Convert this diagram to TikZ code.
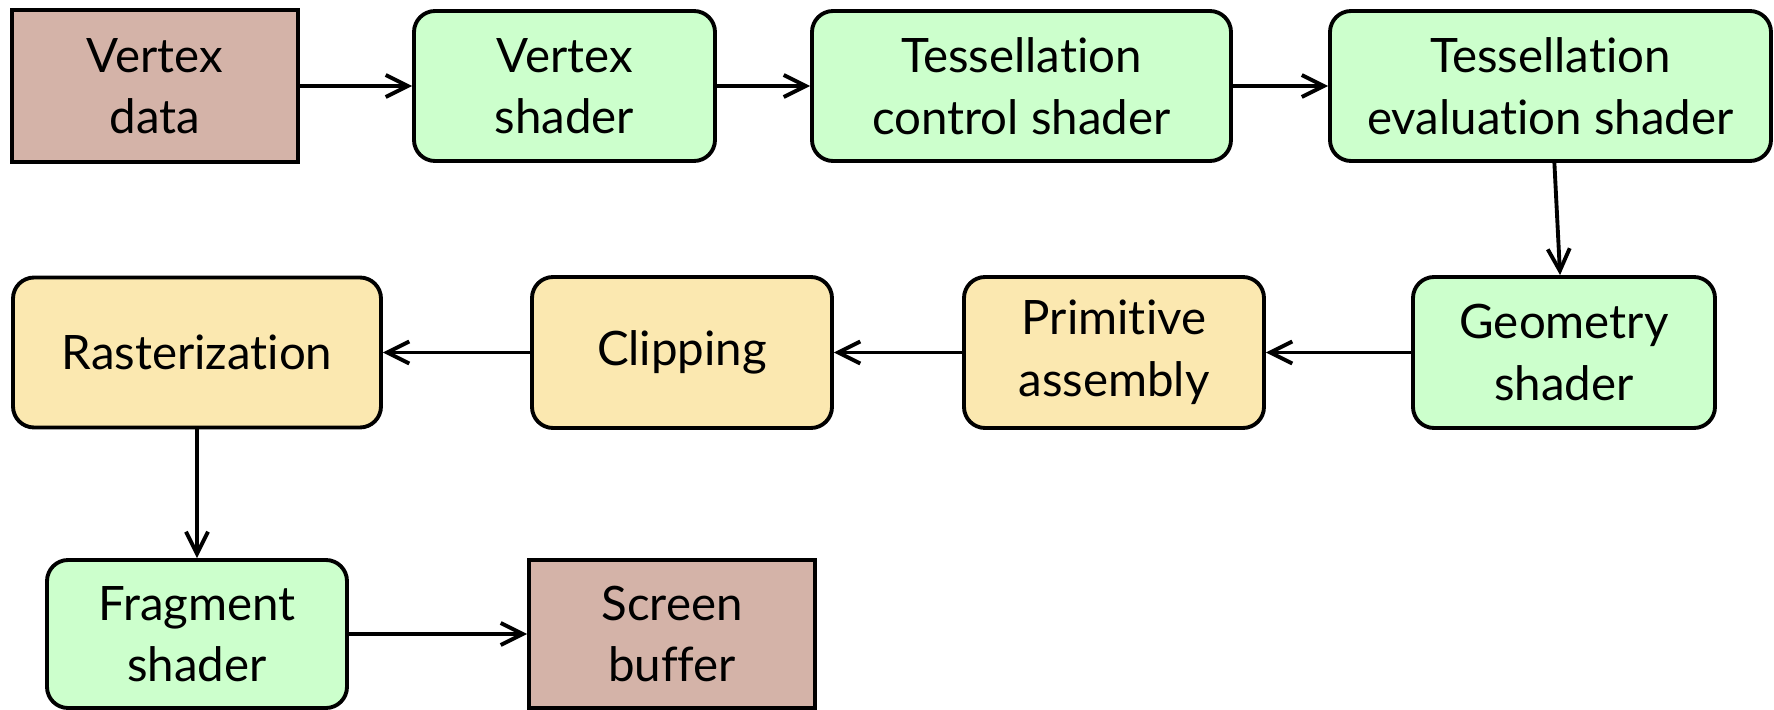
\documentclass[tikz,border=0pt]{standalone}
\usepackage{fontspec}
\setmainfont{Lato}[Ligatures=NoCommon]
\usetikzlibrary{arrows.meta}
\definecolor{cdata}{HTML}{D4B3A8}
\definecolor{cshader}{HTML}{CCFFCC}
\definecolor{cfixed}{HTML}{FBE8B0}
\tikzset{
  every picture/.style={line width=1.1pt},
  box/.style={draw=black, fill=#1, align=center, inner sep=2pt, minimum height=1.5cm, font=\fontsize{13.5}{17.5}\selectfont},
  box/.default=cdata,
  stage/.style={box=#1, rounded corners=6pt},
  stage/.default=cshader,
  arrow/.style={-{Straight Barb[length=2.2mm, width=2.2mm]}, draw=black, line width=1.1pt},
}

\begin{document}
\begin{tikzpicture}
  \useasboundingbox (0,0) rectangle (17.74,-7.10);
  % programmable stages in green, fixed ones in yellow
  \node[box, minimum width=2.86cm, minimum height=1.52cm] (vdata) at (1.55,-0.86) {Vertex\\data};
  \node[stage, minimum width=3.01cm] (vsh) at (5.645,-0.86) {Vertex\\shader};
  \node[stage, minimum width=4.19cm] (tcs) at (10.215,-0.86) {Tessellation\\control shader};
  \node[stage, minimum width=4.41cm] (tes) at (15.505,-0.86) {Tessellation\\evaluation shader};
  \node[stage, minimum width=3.02cm, minimum height=1.51cm] (geo) at (15.64,-3.525) {Geometry\\shader};
  \node[stage=cfixed, minimum width=3.00cm, minimum height=1.51cm] (prim) at (11.14,-3.525) {Primitive\\assembly};
  \node[stage=cfixed, minimum width=3.00cm, minimum height=1.51cm] (clip) at (6.82,-3.525) {Clipping};
  \node[stage=cfixed, minimum width=3.68cm] (rast) at (1.97,-3.525) {Rasterization};
  \node[stage, minimum width=3.00cm, minimum height=1.48cm] (frag) at (1.97,-6.34) {Fragment\\shader};
  \node[box, minimum width=2.86cm, minimum height=1.48cm] (screen) at (6.72,-6.34) {Screen\\buffer};
  \draw[arrow] (vdata) -- (vsh);
  \draw[arrow] (vsh) -- (tcs);
  \draw[arrow] (tcs) -- (tes);
  \draw[arrow] (tes) -- (geo);
  \draw[arrow] (geo) -- (prim);
  \draw[arrow] (prim) -- (clip);
  \draw[arrow] (clip) -- (rast);
  \draw[arrow] (rast) -- (frag);
  \draw[arrow] (frag) -- (screen);
\end{tikzpicture}
\end{document}
